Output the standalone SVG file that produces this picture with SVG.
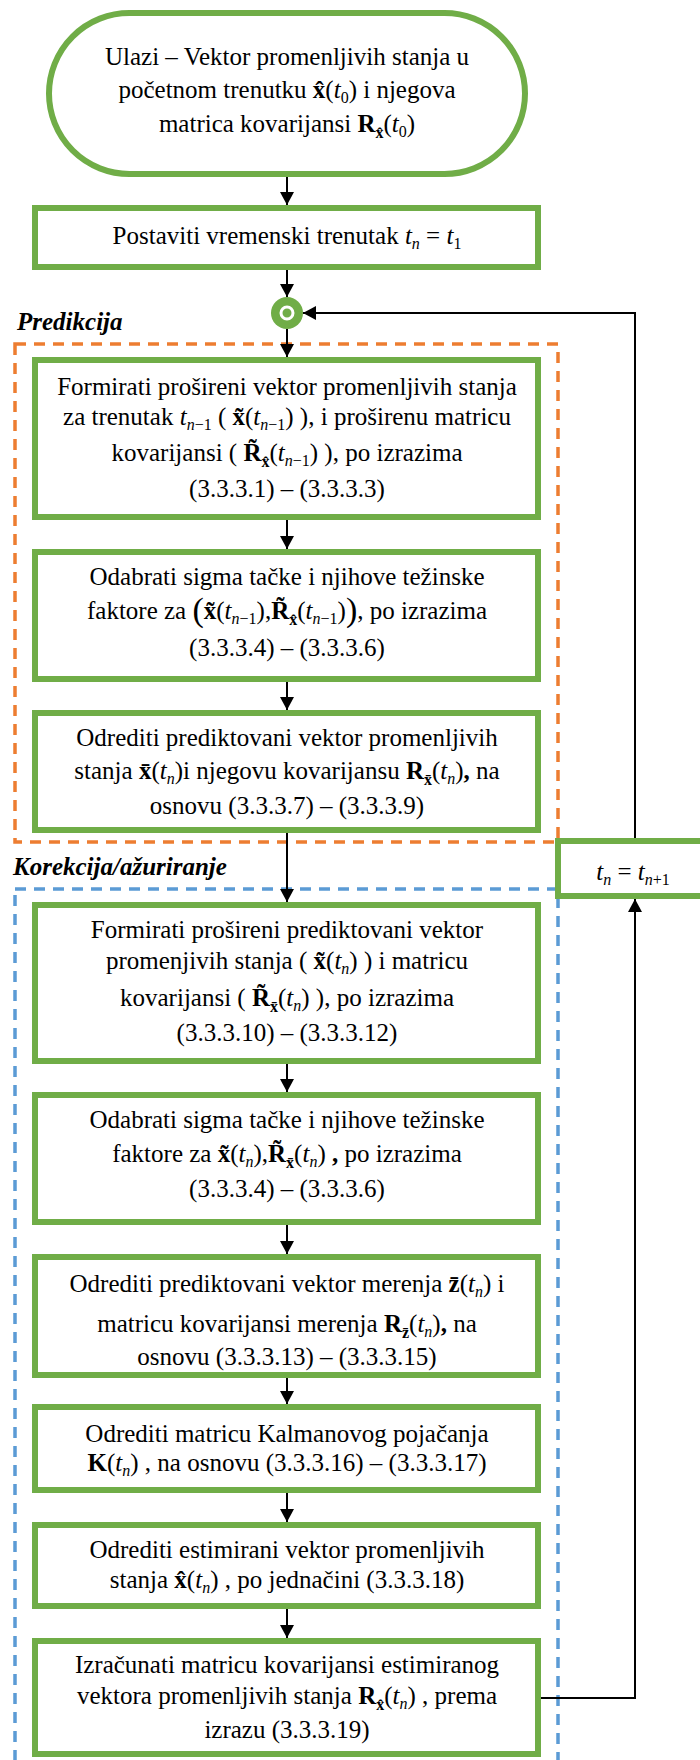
<svg xmlns="http://www.w3.org/2000/svg" width="700" height="1760" viewBox="0 0 700 1760">
<style>
text{font-family:"Liberation Serif","Times New Roman","DejaVu Serif",serif}
.t{font-size:25px;text-anchor:middle;fill:#000}
.b{font-weight:bold}
.i{font-style:italic}
.s{font-size:16px}
.big{font-size:34px}
.lbl{font-size:25px;font-weight:bold;font-style:italic;fill:#000}
.box{fill:#fff;stroke:#70AD47;stroke-width:6}
.con{fill:none;stroke:#000;stroke-width:2}
</style>
<defs>
<marker id="ah" markerUnits="userSpaceOnUse" markerWidth="15" markerHeight="15" refX="13" refY="7" orient="auto">
<path d="M0,0 L13,7 L0,14 z" fill="#000"/>
</marker>
</defs>
<g id="frames">
<rect x="15" y="344" width="543" height="498" fill="none" stroke="#ED7D31" stroke-width="3.5" stroke-dasharray="11 8"/>
<rect x="15" y="889" width="543" height="900" fill="none" stroke="#5B9BD5" stroke-width="3.5" stroke-dasharray="11 8"/>
<text class="lbl" x="17" y="330">Predikcija</text>
<text class="lbl" x="13" y="875">Korekcija/ažuriranje</text>
</g>
<g id="start">
<rect class="box" x="49" y="13" width="476" height="161" rx="80.5" ry="80.5"/>
<text class="t" x="287" y="65">Ulazi – Vektor promenljivih stanja u</text>
<text class="t" x="287" y="98">početnom trenutku <tspan class="b">x&#x302;</tspan>(<tspan class="i">t</tspan><tspan class="s" dy="5">0</tspan><tspan dy="-5">)  i njegova</tspan></text>
<text class="t" x="287" y="132">matrica kovarijansi <tspan class="b">R</tspan><tspan class="s b" dy="6">x&#x302;</tspan><tspan dy="-6">(</tspan><tspan class="i">t</tspan><tspan class="s" dy="5">0</tspan><tspan dy="-5">)</tspan></text>
</g>
<g id="init">
<rect class="box" x="35" y="208" width="503" height="59"/>
<text class="t" x="287" y="244">Postaviti vremenski trenutak <tspan class="i">t</tspan><tspan class="s i" dy="5">n</tspan><tspan dy="-5"> = </tspan><tspan class="i">t</tspan><tspan class="s" dy="5">1</tspan></text>
</g>
<g id="merge">
<circle cx="287" cy="313" r="16" fill="#70AD47"/>
<circle cx="287" cy="313" r="6" fill="none" stroke="#fff" stroke-width="3"/>
</g>
<g id="p1">
<rect class="box" x="35" y="360" width="503" height="157"/>
<text class="t" x="287" y="395">Formirati prošireni vektor promenljivih stanja</text>
<text class="t" x="287" y="425">za trenutak <tspan class="i">t</tspan><tspan class="s" dy="5"><tspan class="i">n</tspan>−1</tspan><tspan dy="-5"> ( </tspan><tspan class="b">x&#x303;</tspan>(<tspan class="i">t</tspan><tspan class="s" dy="5"><tspan class="i">n</tspan>−1</tspan><tspan dy="-5">) ), i proširenu matricu</tspan></text>
<text class="t" x="287" y="461">kovarijansi ( <tspan class="b">R&#x303;</tspan><tspan class="s b" dy="6">x&#x302;</tspan><tspan dy="-6">(</tspan><tspan class="i">t</tspan><tspan class="s" dy="5"><tspan class="i">n</tspan>−1</tspan><tspan dy="-5">) ), po izrazima</tspan></text>
<text class="t" x="287" y="497">(3.3.3.1) – (3.3.3.3)</text>
</g>
<g id="p2">
<rect class="box" x="35" y="552" width="503" height="127"/>
<text class="t" x="287" y="585">Odabrati sigma tačke i njihove težinske</text>
<text class="t" x="287" y="619">faktore za <tspan class="big" dy="2">(</tspan><tspan class="b" dy="-2">x&#x303;</tspan>(<tspan class="i">t</tspan><tspan class="s" dy="5"><tspan class="i">n</tspan>−1</tspan><tspan dy="-5">),</tspan><tspan class="b">R&#x303;</tspan><tspan class="s b" dy="6">x&#x302;</tspan><tspan dy="-6">(</tspan><tspan class="i">t</tspan><tspan class="s" dy="5"><tspan class="i">n</tspan>−1</tspan><tspan dy="-5">)</tspan><tspan class="big" dy="2">)</tspan><tspan dy="-2">, po izrazima</tspan></text>
<text class="t" x="287" y="656">(3.3.3.4) – (3.3.3.6)</text>
</g>
<g id="p3">
<rect class="box" x="35" y="713" width="503" height="117"/>
<text class="t" x="287" y="746">Odrediti prediktovani vektor promenljivih</text>
<text class="t" x="287" y="779">stanja <tspan class="b">x&#x304;</tspan>(<tspan class="i">t</tspan><tspan class="s i" dy="5">n</tspan><tspan dy="-5">)i njegovu kovarijansu </tspan><tspan class="b">R</tspan><tspan class="s b" dy="6">x&#x304;</tspan><tspan dy="-6">(</tspan><tspan class="i">t</tspan><tspan class="s i" dy="5">n</tspan><tspan dy="-5">)</tspan><tspan class="b">,</tspan> na</text>
<text class="t" x="287" y="814">osnovu (3.3.3.7) – (3.3.3.9)</text>
</g>
<g id="tnext">
<rect class="box" x="558" y="841" width="160" height="55"/>
<text class="t" x="633" y="880"><tspan class="i">t</tspan><tspan class="s i" dy="5">n</tspan><tspan dy="-5"> = </tspan><tspan class="i">t</tspan><tspan class="s" dy="5"><tspan class="i">n</tspan>+1</tspan></text>
</g>
<g id="c1">
<rect class="box" x="35" y="905" width="503" height="156"/>
<text class="t" x="287" y="938">Formirati prošireni prediktovani vektor</text>
<text class="t" x="287" y="969">promenjivih stanja ( <tspan class="b">x&#x303;</tspan>(<tspan class="i">t</tspan><tspan class="s i" dy="5">n</tspan><tspan dy="-5">) ) i matricu</tspan></text>
<text class="t" x="287" y="1006">kovarijansi ( <tspan class="b">R&#x303;</tspan><tspan class="s b" dy="6">x&#x304;</tspan><tspan dy="-6">(</tspan><tspan class="i">t</tspan><tspan class="s i" dy="5">n</tspan><tspan dy="-5">) ), po izrazima</tspan></text>
<text class="t" x="287" y="1041">(3.3.3.10) – (3.3.3.12)</text>
</g>
<g id="c2">
<rect class="box" x="35" y="1095" width="503" height="127"/>
<text class="t" x="287" y="1128">Odabrati sigma tačke i njihove težinske</text>
<text class="t" x="287" y="1162">faktore za <tspan class="b">x&#x303;</tspan>(<tspan class="i">t</tspan><tspan class="s i" dy="5">n</tspan><tspan dy="-5">),</tspan><tspan class="b">R&#x303;</tspan><tspan class="s b" dy="6">x&#x304;</tspan><tspan dy="-6">(</tspan><tspan class="i">t</tspan><tspan class="s i" dy="5">n</tspan><tspan dy="-5">) </tspan><tspan class="b">,</tspan> po izrazima</text>
<text class="t" x="287" y="1197">(3.3.3.4) – (3.3.3.6)</text>
</g>
<g id="c3">
<rect class="box" x="35" y="1257" width="503" height="118"/>
<text class="t" x="287" y="1292">Odrediti prediktovani vektor merenja <tspan class="b">z&#x304;</tspan>(<tspan class="i">t</tspan><tspan class="s i" dy="5">n</tspan><tspan dy="-5">) i</tspan></text>
<text class="t" x="287" y="1332">matricu kovarijansi merenja <tspan class="b">R</tspan><tspan class="s b" dy="6">z&#x304;</tspan><tspan dy="-6">(</tspan><tspan class="i">t</tspan><tspan class="s i" dy="5">n</tspan><tspan dy="-5">)</tspan><tspan class="b">,</tspan> na</text>
<text class="t" x="287" y="1365">osnovu (3.3.3.13) – (3.3.3.15)</text>
</g>
<g id="c4">
<rect class="box" x="35" y="1407" width="503" height="83"/>
<text class="t" x="287" y="1442">Odrediti matricu Kalmanovog pojačanja</text>
<text class="t" x="287" y="1471"><tspan class="b">K</tspan>(<tspan class="i">t</tspan><tspan class="s i" dy="5">n</tspan><tspan dy="-5">) , na osnovu (3.3.3.16) – (3.3.3.17)</tspan></text>
</g>
<g id="c5">
<rect class="box" x="35" y="1525" width="503" height="81"/>
<text class="t" x="287" y="1558">Odrediti estimirani vektor promenljivih</text>
<text class="t" x="287" y="1588">stanja <tspan class="b">x&#x302;</tspan>(<tspan class="i">t</tspan><tspan class="s i" dy="5">n</tspan><tspan dy="-5">) , po jednačini (3.3.3.18)</tspan></text>
</g>
<g id="c6">
<rect class="box" x="35" y="1641" width="503" height="113"/>
<text class="t" x="287" y="1673">Izračunati matricu kovarijansi estimiranog</text>
<text class="t" x="287" y="1704">vektora promenljivih stanja <tspan class="b">R</tspan><tspan class="s b" dy="6">x&#x302;</tspan><tspan dy="-6">(</tspan><tspan class="i">t</tspan><tspan class="s i" dy="5">n</tspan><tspan dy="-5">) , prema</tspan></text>
<text class="t" x="287" y="1738">izrazu (3.3.3.19)</text>
</g>
<g id="connectors">
<line class="con" x1="287" y1="177" x2="287" y2="205" marker-end="url(#ah)"/>
<line class="con" x1="287" y1="270" x2="287" y2="297" marker-end="url(#ah)"/>
<line class="con" x1="287" y1="329" x2="287" y2="357" marker-end="url(#ah)"/>
<line class="con" x1="287" y1="520" x2="287" y2="549" marker-end="url(#ah)"/>
<line class="con" x1="287" y1="682" x2="287" y2="710" marker-end="url(#ah)"/>
<line class="con" x1="287" y1="833" x2="287" y2="902" marker-end="url(#ah)"/>
<line class="con" x1="287" y1="1064" x2="287" y2="1092" marker-end="url(#ah)"/>
<line class="con" x1="287" y1="1225" x2="287" y2="1254" marker-end="url(#ah)"/>
<line class="con" x1="287" y1="1378" x2="287" y2="1404" marker-end="url(#ah)"/>
<line class="con" x1="287" y1="1493" x2="287" y2="1522" marker-end="url(#ah)"/>
<line class="con" x1="287" y1="1609" x2="287" y2="1638" marker-end="url(#ah)"/>
<polyline class="con" points="541,1698 635,1698 635,899" marker-end="url(#ah)"/>
<polyline class="con" points="635,838 635,313 303,313" marker-end="url(#ah)"/>
</g>
</svg>
